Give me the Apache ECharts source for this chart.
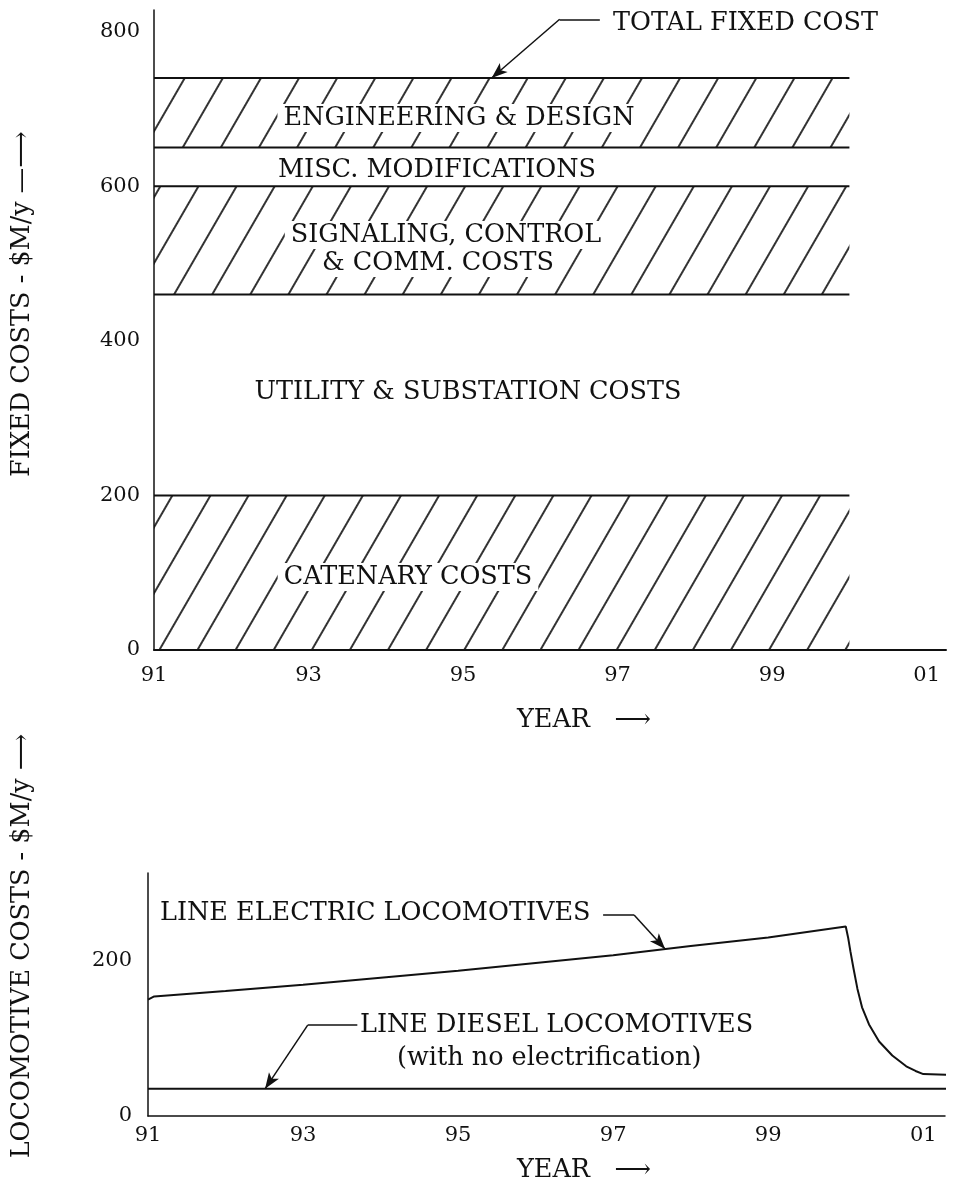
<!DOCTYPE html>
<html>
<head>
<meta charset="utf-8">
<script src="https://cdn.jsdelivr.net/npm/echarts@6/dist/echarts.min.js"></script>
<style>
  html, body { margin: 0; padding: 0; background: #fff; }
  #chart { width: 955px; height: 1184px; }
</style>
</head>
<body>
<div id="chart"></div>
<script>
// ---------- DATA ----------
const years = [1991, 1992, 1993, 1994, 1995, 1996, 1997, 1998, 1999, 2000];
const catenaryCost    = [200, 200, 200, 200, 200, 200, 200, 200, 200, 200];
const utilityCost     = [260, 260, 260, 260, 260, 260, 260, 260, 260, 260];
const signalingCost   = [140, 140, 140, 140, 140, 140, 140, 140, 140, 140];
const miscCost        = [50, 50, 50, 50, 50, 50, 50, 50, 50, 50];
const engineeringCost = [90, 90, 90, 90, 90, 90, 90, 90, 90, 90];

const electricYears = [1991, 1991.08, 1992, 1993, 1994, 1995, 1996, 1997, 1998, 1999, 2000,
                       2000.03, 2000.06, 2000.1, 2000.15, 2000.21, 2000.3, 2000.43, 2000.6,
                       2000.78, 2000.9, 2001.0, 2001.4];
const electricCost  = [150, 154, 161, 169, 178, 187, 197, 207, 219, 230, 244,
                       230, 212, 190, 164, 140, 118, 96, 78,
                       64, 58, 54, 53];
const dieselYears = [1991, 1993, 1995, 1997, 1999, 2001, 2001.4];
const dieselCost  = [35, 35, 35, 35, 35, 35, 35];

const xTickYears = [1991, 1993, 1995, 1997, 1999, 2001];
const fixedTicks = [0, 200, 400, 600, 800];
const locoTicks  = [0, 200];

// ---------- STYLE ----------
const SERIF = '"DejaVu Serif", "Liberation Serif", serif';
const INK = '#111';
const hatch = {
  symbol: 'rect', symbolSize: 1, symbolKeepAspect: false,
  color: '#333', backgroundColor: null,
  dashArrayX: [10, 0], dashArrayY: [1.3, 31],
  rotation: -Math.PI / 3
};
const pairs = (xs, ys) => xs.map((x, i) => [x, ys[i]]);
const cumulative = (...arrs) => arrs[0].map((_, i) => arrs.reduce((s, a) => s + a[i], 0));
const yearFmt = v => String(Math.round(v) % 100).padStart(2, '0');

// band boundaries (top of each band) built from the component costs
const topCatenary    = cumulative(catenaryCost);
const topUtility     = cumulative(catenaryCost, utilityCost);
const topSignaling   = cumulative(catenaryCost, utilityCost, signalingCost);
const topMisc        = cumulative(catenaryCost, utilityCost, signalingCost, miscCost);
const topEngineering = cumulative(catenaryCost, utilityCost, signalingCost, miscCost, engineeringCost);

// hatched bands fill from their top boundary down to the band below (constant levels)
function band(name, values, lowerValues, extra) {
  const s = {
    name, type: 'line', xAxisIndex: 0, yAxisIndex: 0,
    data: pairs(years, values), showSymbol: false, symbol: 'none',
    lineStyle: { color: INK, width: 2 },
    itemStyle: { color: INK },
    silent: true, animation: false
  };
  if (lowerValues) {
    s.areaStyle = { color: 'rgba(255,255,255,0)', opacity: 1, origin: lowerValues[0] };
    s.lineStyle.decal = hatch;
    s.itemStyle.decal = hatch;
  }
  return Object.assign(s, extra || {});
}

const leader = (segs) => ({
  silent: true, animation: false,
  symbolSize: [9, 16],
  lineStyle: { color: INK, width: 1.5, type: 'solid' },
  label: { show: false },
  data: segs.map(([a, b, arrow]) => [
    { coord: a, symbol: 'none' },
    { coord: b, symbol: arrow ? 'arrow' : 'none' }
  ])
});

const FONT = '25.5px ' + SERIF;
const txt = (text, x, y, align, extra, boxed) => Object.assign({
  type: 'text', x, y, silent: true, z: 100,
  style: Object.assign({ text, font: FONT, fill: INK, align: align || 'center', verticalAlign: 'middle' },
    boxed ? { backgroundColor: '#fff', padding: [1, 6] } : {})
}, extra || {});

const chart = echarts.init(document.getElementById('chart'), null, { renderer: 'canvas' });

const axisLabelBase = { color: INK, fontFamily: SERIF, fontSize: 21 };

chart.setOption({
  backgroundColor: '#fff',
  animation: false,
  grid: [
    { left: 154, right: 9, top: 10, bottom: 534 },
    { left: 148, right: 10, top: 873, bottom: 68 }
  ],
  xAxis: [
    { type: 'value', gridIndex: 0, min: 1991, max: 2001.25, z: 10,
      axisLine: { show: true, lineStyle: { color: INK, width: 2 } },
      axisTick: { show: false }, splitLine: { show: false },
      axisLabel: Object.assign({ customValues: xTickYears, formatter: yearFmt, margin: 15 }, axisLabelBase) },
    { type: 'value', gridIndex: 1, min: 1991, max: 2001.28, z: 10,
      axisLine: { show: true, lineStyle: { color: INK, width: 1.5 } },
      axisTick: { show: false }, splitLine: { show: false },
      axisLabel: Object.assign({ customValues: xTickYears, formatter: yearFmt, margin: 9 }, axisLabelBase) }
  ],
  yAxis: [
    { type: 'value', gridIndex: 0, min: 0, max: 828, z: 10,
      axisLine: { show: true, lineStyle: { color: INK, width: 1.5 } },
      axisTick: { show: false }, splitLine: { show: false },
      axisLabel: Object.assign({ customValues: fixedTicks, margin: 14 }, axisLabelBase) },
    { type: 'value', gridIndex: 1, min: 0, max: 313, z: 10,
      axisLine: { show: true, lineStyle: { color: INK, width: 1.5 } },
      axisTick: { show: false }, splitLine: { show: false },
      axisLabel: Object.assign({ customValues: locoTicks, margin: 16 }, axisLabelBase) }
  ],
  series: [
    band('Catenary costs', topCatenary, [0], {
      markLine: leader([
        [[1996.77, 816], [1996.25, 816], false],
        [[1996.25, 816], [1995.37, 740], true]
      ])
    }),
    band('Utility & substation costs', topUtility, null),
    band('Signaling, control & comm. costs', topSignaling, topUtility),
    band('Misc. modifications', topMisc, null),
    band('Engineering & design', topEngineering, topMisc),
    {
      name: 'Line electric locomotives', type: 'line', xAxisIndex: 1, yAxisIndex: 1,
      data: pairs(electricYears, electricCost), showSymbol: false, symbol: 'none',
      clip: false, silent: true, animation: false,
      lineStyle: { color: INK, width: 2 },
      markLine: leader([
        [[1996.87, 259], [1997.27, 259], false],
        [[1997.27, 259], [1997.67, 215], true],
        [[1993.70, 117], [1993.06, 117], false],
        [[1993.06, 117], [1992.51, 35], true]
      ])
    },
    {
      name: 'Line diesel locomotives', type: 'line', xAxisIndex: 1, yAxisIndex: 1,
      data: pairs(dieselYears, dieselCost), showSymbol: false, symbol: 'none',
      clip: false, silent: true, animation: false,
      lineStyle: { color: INK, width: 2 }
    }
  ],
  graphic: [
    txt('TOTAL FIXED COST', 613, 23, 'left'),
    txt('ENGINEERING & DESIGN', 459, 118, 'center', null, true),
    txt('MISC. MODIFICATIONS', 437, 170),
    txt('SIGNALING, CONTROL', 446, 235, 'center', null, true),
    txt('& COMM. COSTS', 438, 263, 'center', null, true),
    txt('UTILITY & SUBSTATION COSTS', 468, 392),
    txt('CATENARY COSTS', 408, 577, 'center', null, true),
    txt('YEAR   ⟶', 517, 720, 'left'),
    txt('FIXED COSTS - $M/y —⟶', 22, 304, 'center', { rotation: Math.PI / 2 }),
    txt('LINE ELECTRIC LOCOMOTIVES', 160, 913, 'left'),
    txt('LINE DIESEL LOCOMOTIVES', 360, 1025, 'left'),
    txt('(with no electrification)', 397, 1058, 'left'),
    txt('LOCOMOTIVE COSTS - $M/y ⟶', 22, 946, 'center', { rotation: Math.PI / 2 }),
    txt('YEAR   ⟶', 517, 1170, 'left')
  ]
});
</script>
</body>
</html>
